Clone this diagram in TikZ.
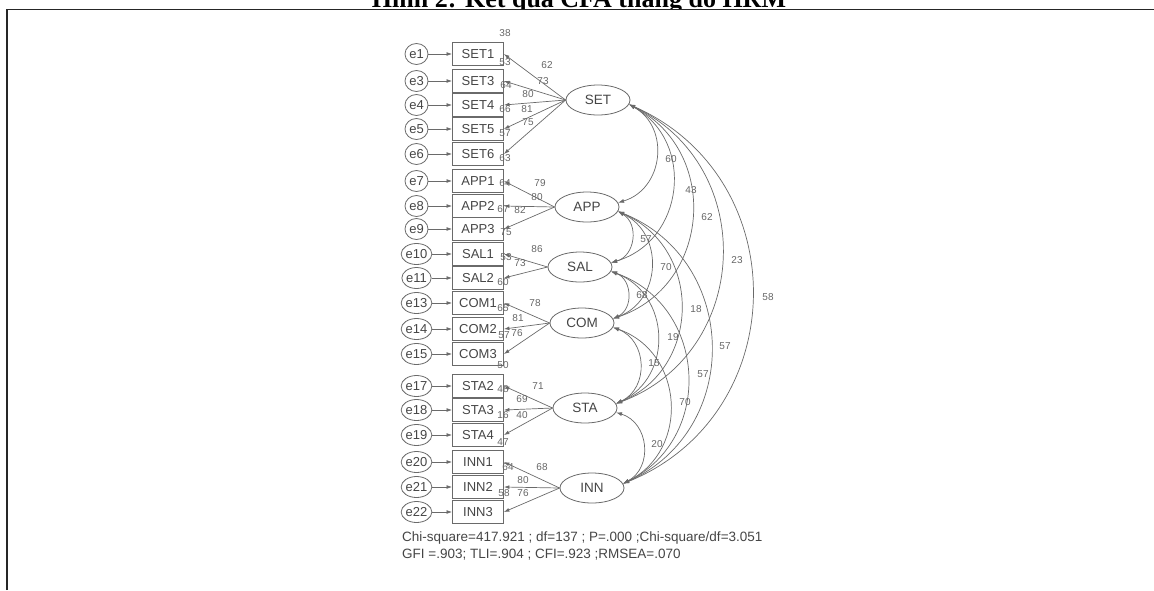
\documentclass[tikz,border=0pt]{standalone}
\usepackage{fontspec}
\setmainfont{Liberation Sans}
\newfontfamily\titlefont{Liberation Serif}
\usetikzlibrary{arrows.meta,shapes.geometric}
\definecolor{txtgray}{HTML}{454545}
\definecolor{linegray}{HTML}{6A6A6A}
\definecolor{numgray}{HTML}{666666}
\begin{document}
\begin{tikzpicture}[x=1pt,y=-1pt,
  obs/.style={draw=linegray, line width=0.8pt, minimum width=51pt, minimum height=23pt, inner sep=0pt, text=txtgray, font=\fontsize{13}{13}\selectfont},
  err/.style={draw=linegray, line width=0.8pt, ellipse, minimum width=23pt, minimum height=21pt, inner sep=0pt, text=txtgray, font=\fontsize{13}{13}\selectfont},
  lat/.style={draw=linegray, line width=0.8pt, ellipse, minimum width=64pt, minimum height=30pt, inner sep=0pt, text=txtgray, font=\fontsize{13.5}{13.5}\selectfont},
  num/.style={inner sep=0pt, text=numgray, font=\fontsize{10}{10}\selectfont},
  arr/.style={draw=linegray, line width=0.7pt, -{Latex[length=5.5pt,width=3.8pt]}},
  cor/.style={draw=linegray, line width=0.7pt, {Latex[length=6pt,width=4pt]}-{Latex[length=6pt,width=4pt]}, bend left=67, looseness=1.23},
  stat/.style={inner sep=0pt, anchor=west, text=txtgray, font=\fontsize{13.5}{13.5}\selectfont}
]
\useasboundingbox (0,0) rectangle (1154,590);
% frame and cropped title
\draw[line width=1.3pt, black!85] (7,590) -- (7,9.5) -- (1154,9.5);
\begin{scope}
\clip (0,0) rectangle (1154,8.6);
\node[inner sep=0pt, anchor=base, font=\titlefont\bfseries\fontsize{26}{26}\selectfont] (title) at (579,7.5) {Hình 2: Kết quả CFA thang đo HRM};
\end{scope}
% observed variables and errors
\foreach \n/\e/\y in {SET1/e1/54,SET3/e3/81,SET4/e4/105,SET5/e5/129,SET6/e6/154,
  APP1/e7/181,APP2/e8/206,APP3/e9/229,SAL1/e10/254,SAL2/e11/278,
  COM1/e13/303,COM2/e14/329,COM3/e15/354,STA2/e17/386,STA3/e18/410,STA4/e19/435,
  INN1/e20/462,INN2/e21/487,INN3/e22/512}{
  \node[obs] (\n) at (478,\y) {\n};
  \node[err] (\e) at (416.5,\y) {\e};
  \draw[arr] (\e) -- (\n);
}
% latent variables
\node[lat] (SET) at (598,100) {SET};
\node[lat] (APP) at (587,207) {APP};
\node[lat] (SAL) at (580,267) {SAL};
\node[lat] (COM) at (582,323) {COM};
\node[lat] (STA) at (585,408) {STA};
\node[lat] (INN) at (592,488) {INN};
% loadings
\foreach \l/\o in {SET/SET1,SET/SET3,SET/SET4,SET/SET5,SET/SET6,APP/APP1,APP/APP2,APP/APP3,
  SAL/SAL1,SAL/SAL2,COM/COM1,COM/COM2,COM/COM3,STA/STA2,STA/STA3,STA/STA4,INN/INN1,INN/INN2,INN/INN3}
  \draw[arr] (\l.west) -- (\o.east);
% correlations
\foreach \a/\b in {SET/APP,SET/SAL,SET/COM,SET/STA,SET/INN,APP/SAL,APP/COM,APP/STA,APP/INN,
  SAL/COM,SAL/STA,SAL/INN,COM/STA,COM/INN,STA/INN}
  \draw[cor] (\a.-8) to (\b.8);
% loading labels
\node[num] at (547,65) {62};
\node[num] at (543,81) {73};
\node[num] at (528,94) {80};
\node[num] at (527,109) {81};
\node[num] at (528,122) {75};
\node[num] at (540,183) {79};
\node[num] at (537,197) {80};
\node[num] at (520,210) {82};
\node[num] at (537,249) {86};
\node[num] at (520,263) {73};
\node[num] at (535,303) {78};
\node[num] at (518,318) {81};
\node[num] at (517,333) {76};
\node[num] at (538,386) {71};
\node[num] at (522,399) {69};
\node[num] at (522,415) {40};
\node[num] at (542,467) {68};
\node[num] at (523,480) {80};
\node[num] at (523,493) {76};
% squared multiple correlations
\node[num] at (505,33) {38};
\node[num] at (505,62) {53};
\node[num] at (506,85) {64};
\node[num] at (505,109) {66};
\node[num] at (505,133) {57};
\node[num] at (505,158) {63};
\node[num] at (505,183) {64};
\node[num] at (503,209) {67};
\node[num] at (506,232) {75};
\node[num] at (506,257) {53};
\node[num] at (503,282) {60};
\node[num] at (503,308) {65};
\node[num] at (504,335) {57};
\node[num] at (503,365) {50};
\node[num] at (503,389) {48};
\node[num] at (503,415) {16};
\node[num] at (503,442) {47};
\node[num] at (508,467) {64};
\node[num] at (504,493) {58};
% correlation labels
\node[num] at (671,159) {60};
\node[num] at (691,190) {43};
\node[num] at (707,217) {62};
\node[num] at (737,260) {23};
\node[num] at (768,297) {58};
\node[num] at (646,239) {57};
\node[num] at (666,267) {70};
\node[num] at (696,309) {18};
\node[num] at (725,346) {57};
\node[num] at (642,295) {68};
\node[num] at (673,337) {19};
\node[num] at (703,374) {57};
\node[num] at (654,363) {15};
\node[num] at (685,402) {70};
\node[num] at (657,444) {20};
% fit statistics
\node[stat] (fit1) at (402,538) {Chi-square=417.921 ; df=137 ; P=.000 ;Chi-square/df=3.051};
\node[stat] (fit2) at (402,555) {GFI =.903; TLI=.904 ; CFI=.923 ;RMSEA=.070};
\end{tikzpicture}
\end{document}
